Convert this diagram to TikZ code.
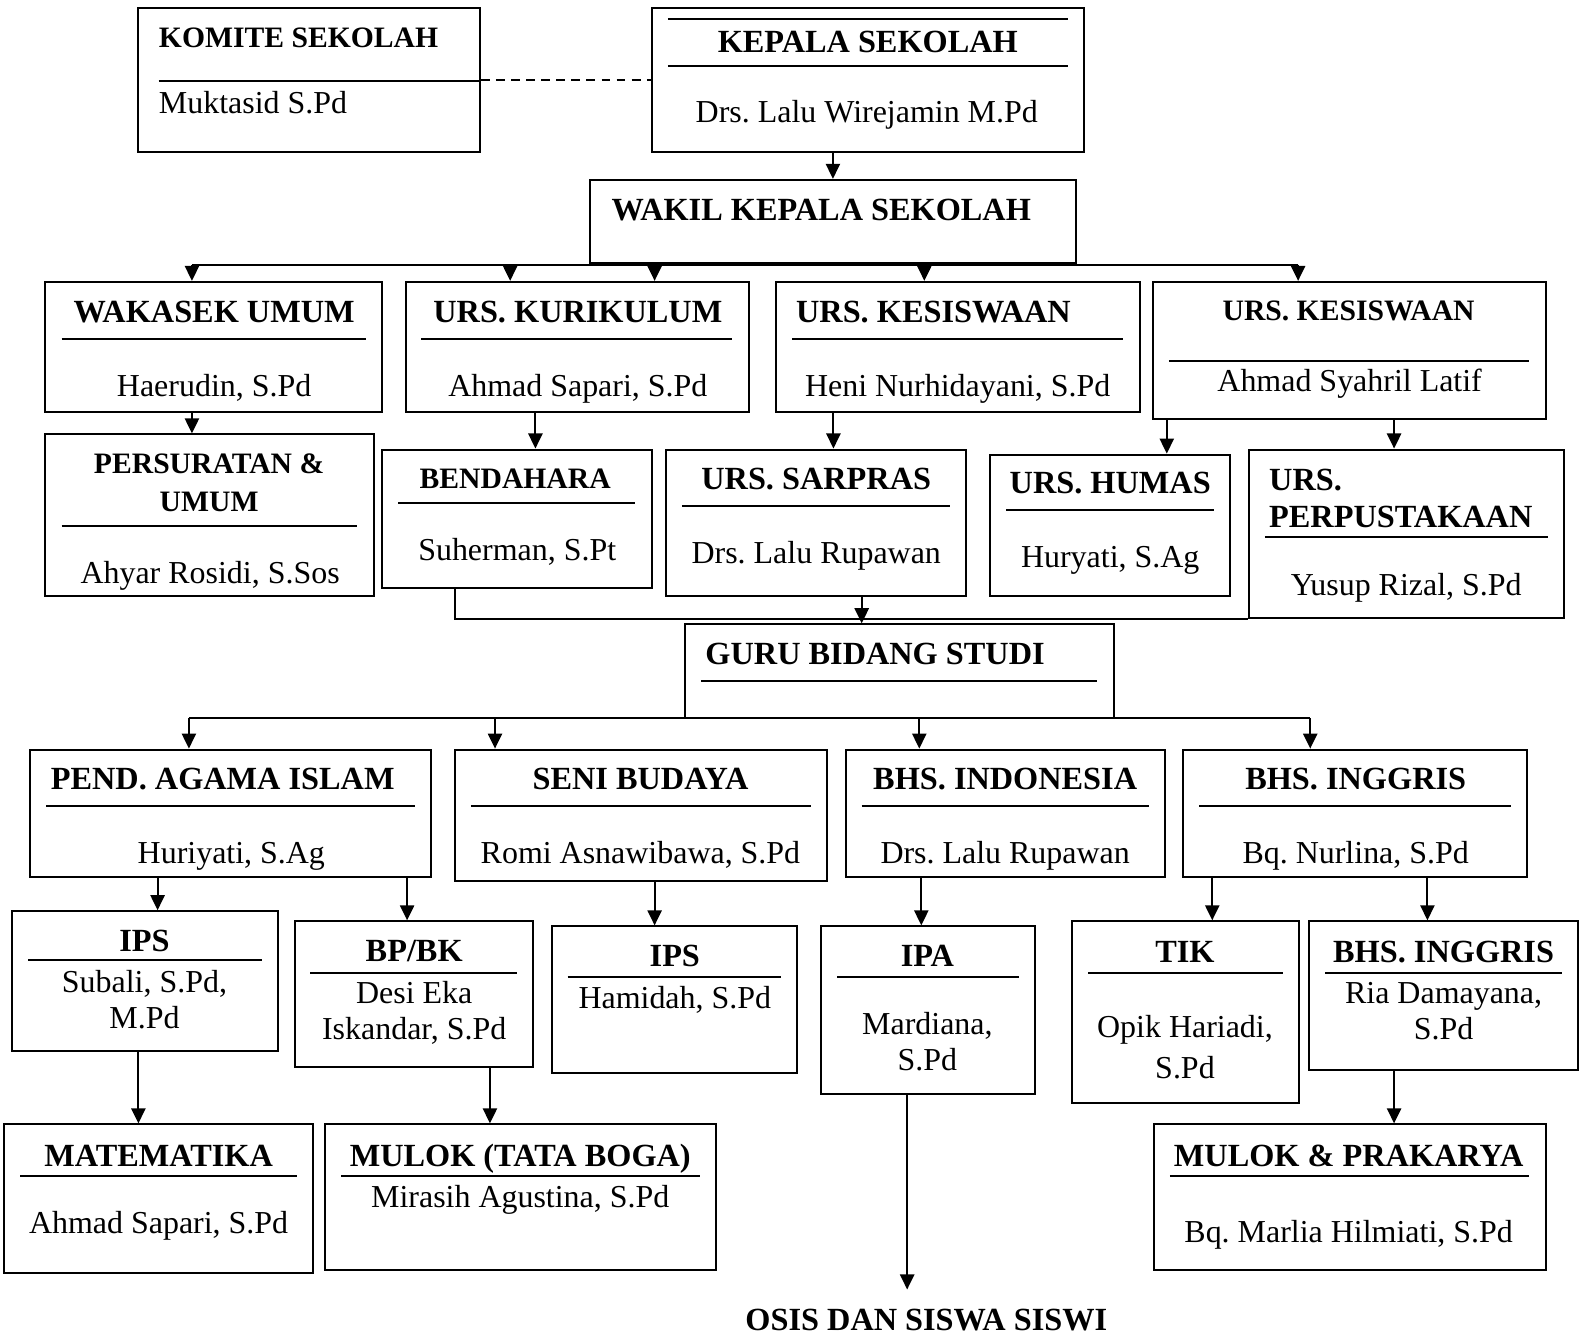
\documentclass[tikz,border=0pt]{standalone}
\usepackage{fontspec}
\setmainfont{Liberation Serif}
\usepackage{tikz}
\usetikzlibrary{
	arrows.meta,
	fit}
\frenchspacing

\begin{document}
\begin{tikzpicture}[x=0.02cm,y=-0.02cm,font=\fontsize{18}{20.5}\selectfont]
  \tikzstyle{box}=[draw,line width=1.1pt,inner sep=0pt]
  \tikzstyle{head}=[font=\fontsize{18.2}{21}\selectfont\bfseries,
    inner sep=0pt,anchor=base]
  \tikzstyle{headsm}=[font=\fontsize{16.7}{20}\selectfont\bfseries,
    inner sep=0pt,anchor=base]
  \tikzstyle{person}=[inner sep=0pt,anchor=base]
  \tikzstyle{rule}=[line width=1.1pt]
  \tikzstyle{arr}=[line width=1.1pt,-{Triangle[length=8.5pt,width=8pt]}]

  \useasboundingbox (0,0) rectangle (1568,1321);

  % pimpinan
  \node [box,fit={(137,8) (475,150)}] (komite) {};
  \node [headsm,anchor=base west] (komite-t) at (157,47) {KOMITE SEKOLAH};
  \draw [rule] (157,80) -- (475,80);
  \node [person,anchor=base west] (komite-n) at (157,112) {Muktasid S.Pd};

  \node [box,fit={(645,8) (1073,150)}] (kepala) {};
  \draw [rule] (661,19) -- (1057,19);
  \node [head] (kepala-t) at (859,52) {KEPALA SEKOLAH};
  \draw [rule] (661,65) -- (1057,65);
  \node [person] (kepala-n) at (858,121) {Drs. Lalu Wirejamin M.Pd};

  \node [box,fit={(584,178) (1065,260)}] (wakil) {};
  \node [head,anchor=base west] (wakil-t) at (605,218) {WAKIL KEPALA SEKOLAH};

  % urusan
  \node [box,fit={(45,279) (378,408)}] (wakasek) {};
  \node [head] (wakasek-t) at (212,319) {WAKASEK UMUM};
  \draw [rule] (61,336) -- (362,336);
  \node [person] (wakasek-n) at (212,392) {Haerudin, S.Pd};

  \node [box,fit={(402,279) (741,408)}] (kurikulum) {};
  \node [head] (kurikulum-t) at (572,319) {URS. KURIKULUM};
  \draw [rule] (417,336) -- (725,336);
  \node [person] (kurikulum-n) at (572,392) {Ahmad Sapari, S.Pd};

  \node [box,fit={(768,279) (1128,408)}] (kesiswaan) {};
  \node [head] (kesiswaan-t) at (924,319) {URS. KESISWAAN};
  \draw [rule] (784,336) -- (1112,336);
  \node [person] (kesiswaan-n) at (948,392) {Heni Nurhidayani, S.Pd};

  \node [box,fit={(1141,279) (1530,415)}] (kesiswaanb) {};
  \node [headsm] (kesiswaanb-t) at (1335,317) {URS. KESISWAAN};
  \draw [rule] (1157,357) -- (1514,357);
  \node [person] (kesiswaanb-n) at (1336,388) {Ahmad Syahril Latif};

  \node [box,fit={(45,430) (370,590)}] (persuratan) {};
  \node [headsm,align=center] (persuratan-t) at (207,506) {PERSURATAN \&\\[1.5pt]UMUM};
  \draw [rule] (61,521) -- (353,521);
  \node [person] (persuratan-n) at (208,578) {Ahyar Rosidi, S.Sos};

  \node [box,fit={(378,445) (645,582)}] (bendahara) {};
  \node [headsm] (bendahara-t) at (510,484) {BENDAHARA};
  \draw [rule] (394,498) -- (629,498);
  \node [person] (bendahara-n) at (512,555) {Suherman, S.Pt};

  \node [box,fit={(659,445) (956,590)}] (sarpras) {};
  \node [head] (sarpras-t) at (808,485) {URS. SARPRAS};
  \draw [rule] (675,501) -- (940,501);
  \node [person] (sarpras-n) at (808,558) {Drs. Lalu Rupawan};

  \node [box,fit={(980,450) (1218,590)}] (humas) {};
  \node [head] (humas-t) at (1099,489) {URS. HUMAS};
  \draw [rule] (996,505) -- (1202,505);
  \node [person] (humas-n) at (1099,562) {Huryati, S.Ag};

  \node [box,fit={(1236,445) (1548,612)}] (perpus) {};
  \node [head,anchor=base west,align=left] (perpus-t) at (1256,522) {URS.\\PERPUSTAKAAN};
  \draw [rule] (1252,532) -- (1532,532);
  \node [person] (perpus-n) at (1392,589) {Yusup Rizal, S.Pd};

  \node [box,fit={(678,618) (1103,711)}] (guru) {};
  \node [head,anchor=base west] (guru-t) at (698,658) {GURU BIDANG STUDI};
  \draw [rule] (694,674) -- (1086,674);

  % guru bidang studi
  \node [box,fit={(30,742) (427,868)}] (agama) {};
  \node [head,anchor=base west] (agama-t) at (50,782) {PEND. AGAMA ISLAM};
  \draw [rule] (46,798) -- (411,798);
  \node [person] (agama-n) at (229,855) {Huriyati, S.Ag};

  \node [box,fit={(450,742) (819,872)}] (seni) {};
  \node [head] (seni-t) at (634,782) {SENI BUDAYA};
  \draw [rule] (466,798) -- (803,798);
  \node [person] (seni-n) at (634,855) {Romi Asnawibawa, S.Pd};

  \node [box,fit={(837,742) (1153,868)}] (indo) {};
  \node [head] (indo-t) at (995,782) {BHS. INDONESIA};
  \draw [rule] (853,798) -- (1137,798);
  \node [person] (indo-n) at (995,855) {Drs. Lalu Rupawan};

  \node [box,fit={(1171,742) (1512,868)}] (inggris) {};
  \node [head] (inggris-t) at (1342,782) {BHS. INGGRIS};
  \draw [rule] (1187,798) -- (1496,798);
  \node [person] (inggris-n) at (1342,855) {Bq. Nurlina, S.Pd};

  \node [box,fit={(12,902) (275,1040)}] (ipsa) {};
  \node [head] (ipsa-t) at (143,942) {IPS};
  \draw [rule] (28,950) -- (259,950);
  \node [person,align=center] (ipsa-n) at (143,1018) {Subali, S.Pd,\\M.Pd};

  \node [box,fit={(292,912) (528,1056)}] (bpbk) {};
  \node [head] (bpbk-t) at (410,952) {BP/BK};
  \draw [rule] (307,963) -- (512,963);
  \node [person,align=center] (bpbk-n) at (410,1029) {Desi Eka\\Iskandar, S.Pd};

  \node [box,fit={(546,917) (789,1062)}] (ipsb) {};
  \node [head] (ipsb-t) at (668,957) {IPS};
  \draw [rule] (562,967) -- (773,967);
  \node [person] (ipsb-n) at (668,998) {Hamidah, S.Pd};

  \node [box,fit={(813,917) (1025,1083)}] (ipa) {};
  \node [head] (ipa-t) at (918,957) {IPA};
  \draw [rule] (829,967) -- (1009,967);
  \node [person,align=center] (ipa-n) at (918,1060) {Mardiana,\\S.Pd};

  \node [box,fit={(1061,912) (1286,1092)}] (tik) {};
  \node [head] (tik-t) at (1173,953) {TIK};
  \draw [rule] (1077,963) -- (1270,963);
  \node [person,align=center] (tik-n) at (1173,1068) {Opik Hariadi,\\[3pt]S.Pd};

  \node [box,fit={(1296,912) (1562,1059)}] (inggrisb) {};
  \node [head] (inggrisb-t) at (1429,953) {BHS. INGGRIS};
  \draw [rule] (1312,963) -- (1546,963);
  \node [person,align=center] (inggrisb-n) at (1429,1029) {Ria Damayana,\\S.Pd};

  \node [box,fit={(4,1113) (310,1260)}] (mtk) {};
  \node [head] (mtk-t) at (157,1155) {MATEMATIKA};
  \draw [rule] (20,1164) -- (294,1164);
  \node [person] (mtk-n) at (157,1221) {Ahmad Sapari, S.Pd};

  \node [box,fit={(322,1113) (709,1257)}] (mulok) {};
  \node [head] (mulok-t) at (515,1155) {MULOK (TATA BOGA)};
  \draw [rule] (338,1164) -- (693,1164);
  \node [person] (mulok-n) at (515,1195) {Mirasih Agustina, S.Pd};

  \node [box,fit={(1142,1113) (1530,1257)}] (prakarya) {};
  \node [head] (prakarya-t) at (1335,1155) {MULOK \& PRAKARYA};
  \draw [rule] (1158,1164) -- (1514,1164);
  \node [person] (prakarya-n) at (1335,1230) {Bq. Marlia Hilmiati, S.Pd};

  \node [head] (osis) at (917,1317) {OSIS DAN SISWA SISWI};

  % garis
  \draw [rule,dash pattern=on 5pt off 3.5pt] (komite.east) -- (kepala.west);
  \draw [arr] (kepala.south -| wakil.north) -- (wakil.north);

  \coordinate (wa) at (190,262);
  \coordinate (wb) at (505,262);
  \coordinate (wc) at (648,262);
  \coordinate (wd) at (915,262);
  \coordinate (we) at (1285,262);
  \draw [rule] (wa) -- (we);
  \draw [arr] (wa) -- (wa |- wakasek.north);
  \draw [arr] (wb) -- (wb |- kurikulum.north);
  \draw [arr] (wc) -- (wc |- kurikulum.north);
  \draw [arr] (wd) -- (wd |- kesiswaan.north);
  \draw [arr] (we) -- (we |- kesiswaanb.north);

  \draw [arr] (wakasek.south -| wa) -- (persuratan.north -| wa);
  \draw [arr] (kurikulum.south -| 530,0) -- (bendahara.north -| 530,0);
  \draw [arr] (kesiswaan.south -| 825,0) -- (sarpras.north -| 825,0);
  \draw [arr] (kesiswaanb.south -| 1155,0) -- (humas.north -| 1155,0);
  \draw [arr] (kesiswaanb.south -| 1380,0) -- (perpus.north -| 1380,0);

  \draw [rule] (bendahara.south -| 450,0) |- (perpus.south west);
  \draw [arr] (sarpras.south -| 853,0) -- (guru.north -| 853,0);

  \coordinate (ga) at (187,711);
  \coordinate (gb) at (490,711);
  \coordinate (gc) at (910,711);
  \coordinate (gd) at (1297,711);
  \draw [rule] (ga) -- (gd);
  \draw [arr] (ga) -- (ga |- agama.north);
  \draw [arr] (gb) -- (gb |- seni.north);
  \draw [arr] (gc) -- (gc |- indo.north);
  \draw [arr] (gd) -- (gd |- inggris.north);

  \draw [arr] (agama.south -| 156,0) -- (ipsa.north -| 156,0);
  \draw [arr] (agama.south -| 403,0) -- (bpbk.north -| 403,0);
  \draw [arr] (seni.south -| 648,0) -- (ipsb.north -| 648,0);
  \draw [arr] (indo.south -| 912,0) -- (ipa.north -| 912,0);
  \draw [arr] (inggris.south -| 1200,0) -- (tik.north -| 1200,0);
  \draw [arr] (inggris.south -| 1413,0) -- (inggrisb.north -| 1413,0);

  \draw [arr] (ipsa.south -| 137,0) -- (mtk.north -| 137,0);
  \draw [arr] (bpbk.south -| 485,0) -- (mulok.north -| 485,0);
  \draw [arr] (inggrisb.south -| 1380,0) -- (prakarya.north -| 1380,0);
  \draw [arr,shorten >=0.38cm] (ipa.south -| 898,0) -- (osis.north -| 898,0);
\end{tikzpicture}
\end{document}
